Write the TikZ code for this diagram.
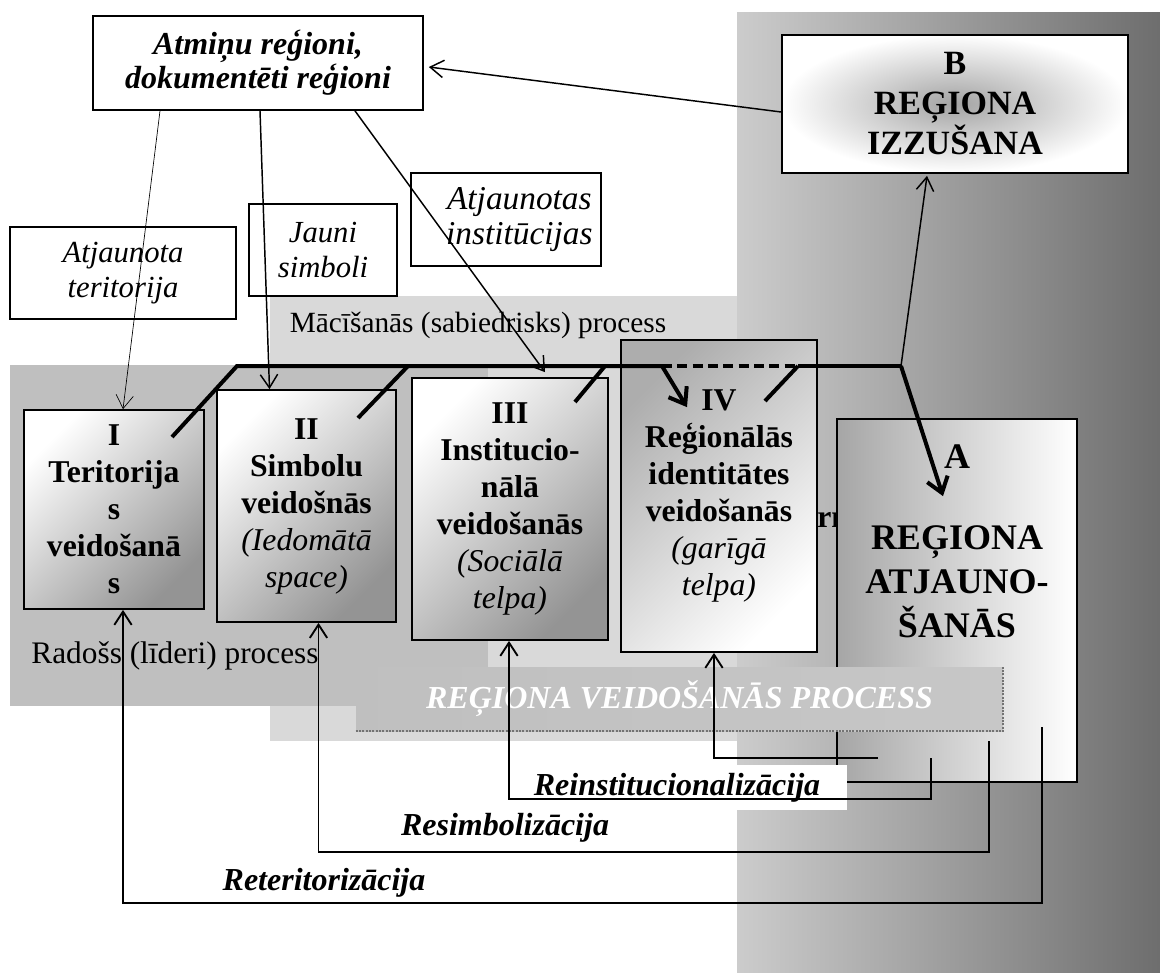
\documentclass[tikz,border=0pt]{standalone}
\usepackage{fontspec}
\setmainfont{Liberation Serif}
\usetikzlibrary{arrows.meta,calc}

\newcommand{\itpart}[1]{{\normalfont\itshape #1}}

\begin{document}
\begin{tikzpicture}[x=0.75pt,y=-0.75pt]
	\tikzstyle{stagebox}=[rectangle, draw=black, line width=1.3pt, align=center, inner sep=0pt, font=\fontsize{23.8}{27.75}\selectfont\bfseries, top color=white, bottom color=black!42, shading angle=45]
	\tikzstyle{notebox}=[rectangle, draw=black, line width=1pt, fill=white, align=center, inner sep=0pt, font=\fontsize{23}{26}\selectfont\itshape]
	\tikzstyle{proctext}=[inner sep=0pt, font=\fontsize{22}{26}\selectfont]
	\tikzstyle{relabel}=[inner sep=0pt, font=\fontsize{24}{28}\selectfont\bfseries\itshape]
	\tikzstyle{conn}=[-{Straight Barb[length=10pt,width=13pt]}, line width=1.1pt]
	\tikzstyle{fb}=[conn, line width=1.4pt]
	\tikzstyle{proc}=[line width=3pt]
	\tikzstyle{procarrow}=[proc, -{Straight Barb[length=11pt,width=16pt]}]
	\useasboundingbox (0,0) rectangle (1160,972);
	% background areas
	\shade[left color=black!20, right color=black!57] (737,12) rectangle (1160,972);
	\fill[black!15] (270,296) rectangle (737,741);
	\fill[black!25] (10,365) rectangle (488,706);
	\node[proctext, anchor=base] (learn) at (478,332) {Mācīšanās (sabiedrisks) process};
	\node[proctext, font=\fontsize{23.5}{27}\selectfont, anchor=base] (lead) at (175,663) {Radošs (līderi) process};
	\node[inner sep=0pt, anchor=base west, font=\fontsize{23.8}{27}\selectfont\bfseries] (hidden) at (817,527) {rm};
	% top boxes
	\node[notebox, line width=1.3pt, font=\fontsize{24}{25.5}\selectfont\bfseries\itshape, minimum width=247.5pt, minimum height=70.5pt] (atm) at (258,63) {Atmiņu reģioni,\\dokumentēti reģioni};
	\node[notebox, minimum width=169.5pt, minimum height=69pt] (newterr) at (123,273) {Atjaunota\\teritorija};
	\node[notebox, minimum width=111pt, minimum height=69pt] (newsym) at (323,250) {Jauni\\simboli};
	\node[notebox, font=\fontsize{25}{26.5}\selectfont\itshape, minimum width=142.5pt, minimum height=69.75pt] (newinst) at (506,219.5) {\hspace*{20pt}Atjaunotas\\\hspace*{20pt}institūcijas};
	\node[draw=black, line width=1.3pt, inner color=black!36, outer color=white, align=center, font=\fontsize{25.5}{30}\selectfont\bfseries, minimum width=259.5pt, minimum height=103.5pt] (boxB) at (955,104) {B\\REĢIONA\\IZZUŠANA};
	% stages
	\node[stagebox, minimum width=135pt, minimum height=149.25pt] (boxI) at (114,509.5) {I\\Teritorija\\s\\veidošanā\\s};
	\node[stagebox, minimum width=134.25pt, minimum height=174pt] (boxII) at (306.5,506) {II\\Simbolu\\veidošnās\\\itpart{(Iedomātā}\\\itpart{space)}};
	\node[stagebox, minimum width=147pt, minimum height=196.5pt] (boxIII) at (510,509) {III\\Institucio-\\nālā\\veidošanās\\\itpart{(Sociālā}\\\itpart{telpa)}};
	\node[stagebox, top color=black!32, middle color=black!4, bottom color=white, shading angle=45, minimum width=147pt, minimum height=234pt] (boxIV) at (719,496) {IV\\Reģionālās\\identitātes\\veidošanās\\\itpart{(garīgā}\\\itpart{telpa)}};
	\node[draw=black, line width=1.3pt, left color=black!35, right color=white, minimum width=180pt, minimum height=272.25pt] (boxA) at (957,600.5) {};
	\node[align=center, font=\fontsize{27}{33}\selectfont\bfseries] (textA) at (957,541) {A\\[28pt]REĢIONA\\ATJAUNO-\\ŠANĀS};
	% banner
	\node[left color=black!25, middle color=black!33, right color=black!22, inner sep=0pt, minimum width=485.25pt, minimum height=48pt, text=white, font=\fontsize{24}{28}\selectfont\bfseries\itshape] (banner) at (679.5,699) {REĢIONA VEIDOŠANĀS PROCESS};
	\draw[black!55, line width=1.5pt, densely dotted] (banner.south west) -- (banner.south east) -- (banner.north east);
	% return labels
	\node[relabel, fill=white, inner xsep=20pt, inner ysep=6pt, anchor=base] (reinst) at (677,795) {Reinstitucionalizācija};
	\node[relabel, anchor=base] (resym) at (505,835) {Resimbolizācija};
	\node[relabel, anchor=base] (reterr) at (324,890) {Reteritorizācija};
	% return lines
	\coordinate (fIV) at (878,758);
	\coordinate (fIII) at (931,758);
	\coordinate (fII) at (989,741);
	\coordinate (fI) at (1042,727);
	\draw[fb] (fIV) -| ($(boxIV.south)+(-5,0)$);
	\draw[fb] (fIII) -- ++(0,41) -| ($(boxIII.south)+(-1,0)$);
	\draw[fb] (fII) -- ++(0,111) -| ($(boxII.south)+(12,0)$);
	\draw[fb] (fI) -- ++(0,176) -| ($(boxI.south)+(9,0)$);
	% from the memory box
	\draw[conn, line width=0.5pt] ($(atm.south)+(-98,0)$) -- ($(boxI.north)+(9,0)$);
	\draw[conn] ($(atm.south)+(2,0)$) -- ($(boxII.north)+(-37,0)$);
	\draw[conn] ($(atm.south)+(97,0)$) -- ($(boxIII.north)+(35,-5)$);
	\draw[conn] ($(boxB.west)+(0,8)$) -- ($(atm.east)+(5,4)$);
	% process line
	\coordinate (kI) at (172,437);
	\coordinate (cL) at (237,366);
	\coordinate (cIV) at (662,366);
	\coordinate (cD) at (798,366);
	\coordinate (cR) at (901,366);
	\coordinate (kII) at (358,418);
	\coordinate (kIII) at (575,402);
	\coordinate (kIV) at (765,401);
	\draw[proc] (kI) -- (cL) -- (cIV);
	\draw[proc, dash pattern=on 7.5pt off 4pt] (cIV) -- (cD);
	\draw[proc] (cD) -- (cR);
	\draw[proc] (kII) -- ++(50,-52);
	\draw[proc] (kIII) -- ++(30,-36);
	\draw[proc] (kIV) -- (cD);
	\draw[procarrow] (cIV) -- ($(boxIV.north)+(-32,68)$);
	\draw[procarrow] (cR) -- ($(boxA.north)+(-14,78)$);
	\draw[conn] (cR) -- ($(boxB.south)+(-28,2)$);
\end{tikzpicture}
\end{document}
